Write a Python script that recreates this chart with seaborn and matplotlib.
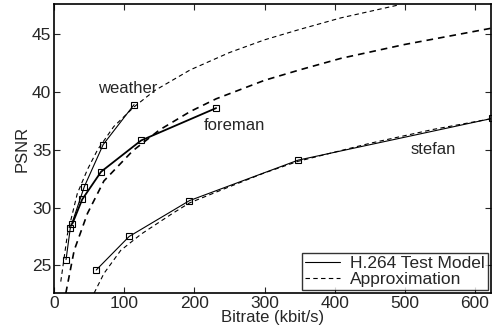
import pandas as pd
import seaborn as sns
import matplotlib.pyplot as plt
from matplotlib.lines import Line2D

# test model measurements (bitrate kbit/s, PSNR dB)
weather_rate = [17, 23, 43, 70, 114]
weather_psnr = [25.5, 28.2, 31.8, 35.45, 38.9]
foreman_rate = [26, 40, 67, 124, 231]
foreman_psnr = [28.6, 30.7, 33.1, 35.8, 38.6]
stefan_rate = [60, 107, 193, 348, 624]
stefan_psnr = [24.6, 27.5, 30.6, 34.1, 37.7]

# approximation curves
weather_apx_rate = [9.5, 19, 33, 47.6, 62, 85, 114, 143, 194, 250, 300, 350, 409, 490]
weather_apx_psnr = [23.6, 27.7, 31.2, 33.3, 35.0, 37.0, 38.7, 40.1, 41.9, 43.4, 44.5, 45.4, 46.4, 47.5]
foreman_apx_rate = [16.7, 28.6, 47.6, 71, 112, 150, 194, 231, 300, 350, 409, 500, 623]
foreman_apx_psnr = [22.6, 26.3, 29.5, 32.3, 34.9, 36.7, 38.3, 39.4, 41.0, 41.9, 42.9, 44.1, 45.5]
stefan_apx_rate = [57, 71, 95, 124, 169, 193, 250, 300, 348, 450, 540, 625]
stefan_apx_psnr = [22.6, 24.3, 26.3, 27.7, 29.5, 30.4, 31.8, 33.0, 34.0, 35.55, 36.75, 37.7]

sns.set_style("ticks")
plt.rcParams['font.family'] = ['Liberation Sans', 'DejaVu Sans']
plt.rcParams['xtick.direction'] = 'in'
plt.rcParams['ytick.direction'] = 'in'

fig = plt.figure(figsize=(4.92, 3.32), dpi=100)
ax = fig.add_axes([0.11, 0.117, 0.888, 0.871])

# dashed approximations
for r, p, lw in [(weather_apx_rate, weather_apx_psnr, 0.8),
                 (foreman_apx_rate, foreman_apx_psnr, 1.2),
                 (stefan_apx_rate, stefan_apx_psnr, 0.8)]:
    sns.lineplot(x=r, y=p, ax=ax, color='black', lw=lw, sort=False,
                 linestyle=(0, (4, 3)), estimator=None)

# measured curves
for r, p, lw in [(weather_rate, weather_psnr, 0.8),
                 (foreman_rate, foreman_psnr, 1.3),
                 (stefan_rate, stefan_psnr, 0.8)]:
    sns.lineplot(x=r, y=p, ax=ax, color='black', lw=lw, sort=False,
                 marker='s', markersize=4.5, markerfacecolor='none',
                 markeredgecolor='black', markeredgewidth=0.8, estimator=None)

ax.text(105, 40.3, 'weather', fontsize=12, ha='center', va='center')
ax.text(257, 37.1, 'foreman', fontsize=12, ha='center', va='center')
ax.text(540, 35.0, 'stefan', fontsize=12, ha='center', va='center')

ax.set_xlim(0, 623)
ax.set_ylim(22.6, 47.6)
ax.set_xticks([0, 100, 200, 300, 400, 500, 600])
ax.set_yticks([25, 30, 35, 40, 45])
ax.tick_params(top=True, right=True, labelsize=12.5, length=4, width=0.8, pad=2)
for s in ax.spines.values():
    s.set_linewidth(1.2)
    s.set_color('black')
ax.set_xlabel('Bitrate (kbit/s)', fontsize=12, labelpad=-1)
ax.set_ylabel('PSNR', fontsize=12, labelpad=2)

handles = [Line2D([], [], color='black', lw=0.8),
           Line2D([], [], color='black', lw=0.8, linestyle=(0, (4, 3)))]
leg = ax.legend(handles, ['H.264 Test Model', 'Approximation'], loc='lower right',
                fontsize=12.5, frameon=True, fancybox=False, borderaxespad=0.2,
                handlelength=2.0, borderpad=0.15, labelspacing=0.05, handletextpad=0.6)
leg.get_frame().set_edgecolor('black')
leg.get_frame().set_linewidth(1.0)

fig.savefig('out.png', dpi=100)
